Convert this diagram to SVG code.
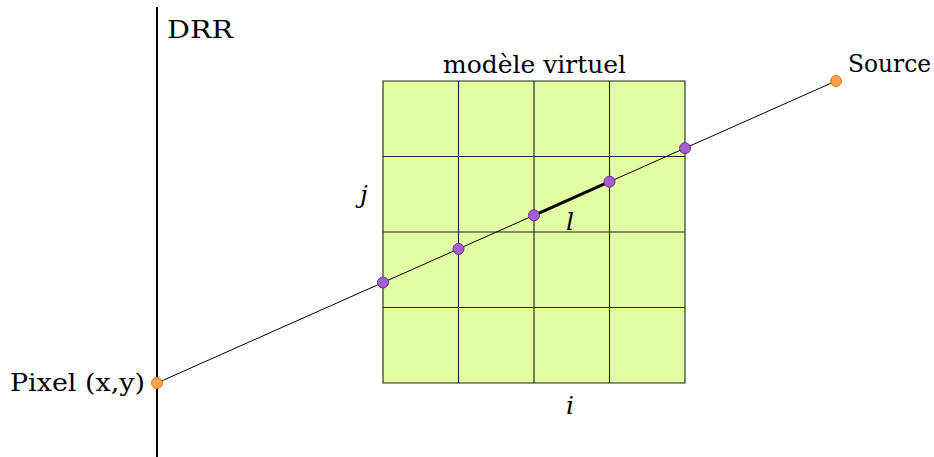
<svg xmlns="http://www.w3.org/2000/svg" width="934" height="457" viewBox="0 0 934 457">
<style>
text{font-family:'DejaVu Serif',serif;fill:#000;font-size:24px}
.it{font-style:italic;font-size:25px}
.grid{stroke:#222;stroke-width:1.1;fill:none}
.hit{fill:#a35fd1;stroke:#6a2a9a;stroke-width:1}
.end{fill:#ffa24a;stroke:#e07a10;stroke-width:1}
</style>
<rect width="934" height="457" fill="#fff"/>
<g id="detector">
<line x1="157" y1="7" x2="157" y2="457" stroke="#000" stroke-width="2"/>
<text x="167" y="38" textLength="66" lengthAdjust="spacingAndGlyphs">DRR</text>
</g>
<g id="model">
<rect x="383" y="81" width="302" height="302" fill="#e2ffa3"/>
<path class="grid" d="M383,81H685V383H383Z M458.5,81V383 M534,81V383 M609.5,81V383 M383,156.5H685 M383,232H685 M383,307.5H685"/>
<text x="443" y="73" textLength="183" lengthAdjust="spacingAndGlyphs">modèle virtuel</text>
<text class="it" x="360" y="203">j</text>
<text class="it" x="566" y="414">i</text>
</g>
<g id="connectors">
<line x1="157" y1="383" x2="836" y2="81" stroke="#000" stroke-width="1"/>
<line x1="534" y1="215.3" x2="609.5" y2="181.7" stroke="#000" stroke-width="3"/>
<text class="it" x="566" y="230">l</text>
</g>
<g id="pixel">
<circle class="end" cx="157" cy="383" r="5.5"/>
<text x="10" y="391" textLength="135" lengthAdjust="spacingAndGlyphs">Pixel (x,y)</text>
</g>
<g id="source">
<circle class="end" cx="836" cy="81" r="5.5"/>
<text x="848" y="72" textLength="83" lengthAdjust="spacingAndGlyphs">Source</text>
</g>
<g id="hits">
<circle class="hit" cx="383" cy="282.5" r="5.5"/>
<circle class="hit" cx="458.5" cy="248.9" r="5.5"/>
<circle class="hit" cx="534" cy="215.3" r="5.5"/>
<circle class="hit" cx="609.5" cy="181.7" r="5.5"/>
<circle class="hit" cx="685" cy="148.2" r="5.5"/>
</g>
</svg>
